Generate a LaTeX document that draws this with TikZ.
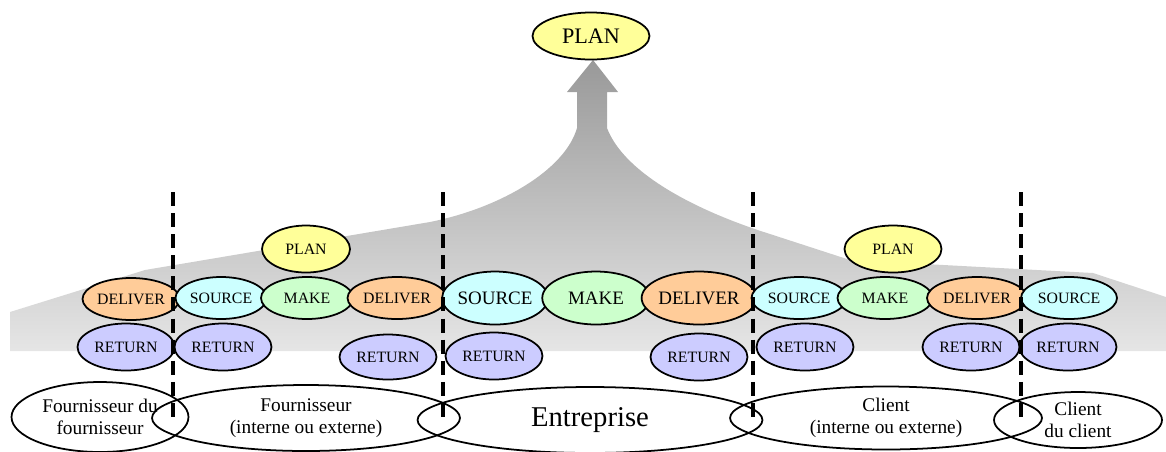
\documentclass[tikz,border=0pt]{standalone}
\usepackage{fontspec}
\setmainfont{Liberation Serif}
\usetikzlibrary{shapes.geometric}
\definecolor{planc}{HTML}{FFFF99}
\definecolor{sourcec}{HTML}{CCFFFF}
\definecolor{makec}{HTML}{CCFFCC}
\definecolor{deliverc}{HTML}{FFCC99}
\definecolor{returnc}{HTML}{CCCCFF}
\begin{document}
\begin{tikzpicture}[x=0.02cm,y=-0.02cm,
  proc/.style={ellipse,draw,line width=1pt,inner sep=0pt,minimum width=1.94cm,minimum height=0.84cm,font=\fontsize{9}{10}\selectfont},
  big/.style={minimum width=2.15cm,minimum height=1.06cm,font=\fontsize{10.8}{12}\selectfont},
  plan/.style={proc,fill=planc,minimum height=0.94cm},
  src/.style={proc,fill=sourcec},
  make/.style={proc,fill=makec},
  dlv/.style={proc,fill=deliverc},
  ret/.style={proc,fill=returnc,minimum height=0.94cm},
  party/.style={ellipse,draw,line width=1pt,inner sep=0pt,align=center,font=\fontsize{11}{12.5}\selectfont},
  sep/.style={line width=2pt,dash pattern=on 8pt off 4pt}]
\useasboundingbox (0,0) rectangle (1166,451);
% grey band rising to the global PLAN
\shade[top color=gray!80,bottom color=gray!20]
  (10,351) -- (10,312) -- (145,270) -- (430,222)
  .. controls (500,208) and (565,170) .. (577,128) -- (577,92) -- (567,92)
  -- (593,60) -- (618,92) -- (607,92) -- (607,128)
  .. controls (625,175) and (700,212) .. (770,234)
  -- (850,260) -- (1093,273) -- (1166,297) -- (1166,351) -- cycle;
% partners
\node[party,minimum width=3.54cm,minimum height=1.4cm] (fA) at (100,417) {Fournisseur du\\fournisseur};
\node[party,minimum width=6.16cm,minimum height=1.32cm] (fB) at (306,418) {Fournisseur\\(interne ou externe)};
\node[party,minimum width=6.9cm,minimum height=1.32cm,font=\fontsize{16.3}{18}\selectfont] (ent) at (590,420) {Entreprise};
\node[party,minimum width=6.24cm,minimum height=1.26cm] (cA) at (886,418) {Client\\(interne ou externe)};
\node[party,minimum width=3.36cm,minimum height=1.12cm] (cB) at (1078,420) {Client\\du client};
% left
\node[dlv] (dA) at (131,299) {DELIVER};
\node[src,minimum width=1.82cm] (sA) at (221,298) {SOURCE};
\node[make,minimum width=1.84cm] (mA) at (307,298) {MAKE};
\node[dlv,minimum width=1.98cm] (dB) at (397,298) {DELIVER};
\node[plan,minimum width=1.76cm] (pA) at (306,249) {PLAN};
\node[ret] (rA) at (126,347) {RETURN};
\node[ret] (rB) at (223,347) {RETURN};
\node[ret,minimum height=0.9cm] (rC) at (388,357) {RETURN};
% middle
\node[src,big,minimum width=2.1cm] (sB) at (495,298) {SOURCE};
\node[make,big] (mB) at (596,298) {MAKE};
\node[dlv,big,minimum width=2.24cm] (dC) at (699,298) {DELIVER};
\node[ret] (rD) at (494,356) {RETURN};
\node[ret] (rE) at (699,357) {RETURN};
\node[plan,minimum width=2.34cm,font=\fontsize{12.6}{14}\selectfont] (pTop) at (591,36) {PLAN};
% right
\node[src,minimum width=1.9cm] (sC) at (799,298) {SOURCE};
\node[make,minimum width=1.9cm] (mC) at (885,298) {MAKE};
\node[dlv,minimum width=2cm] (dD) at (977,298) {DELIVER};
\node[src,minimum width=1.92cm] (sD) at (1069,298) {SOURCE};
\node[plan] (pB) at (893,249) {PLAN};
\node[ret] (rF) at (805,347) {RETURN};
\node[ret] (rG) at (971,347) {RETURN};
\node[ret] (rH) at (1068,347) {RETURN};
% borders
\foreach \x [count=\i] in {173,443,753,1021} {
  \coordinate (t\i) at (\x,192);
  \coordinate (b\i) at (\x,420);
  \draw[sep] (t\i) -- (b\i);
}
\end{tikzpicture}
\end{document}
